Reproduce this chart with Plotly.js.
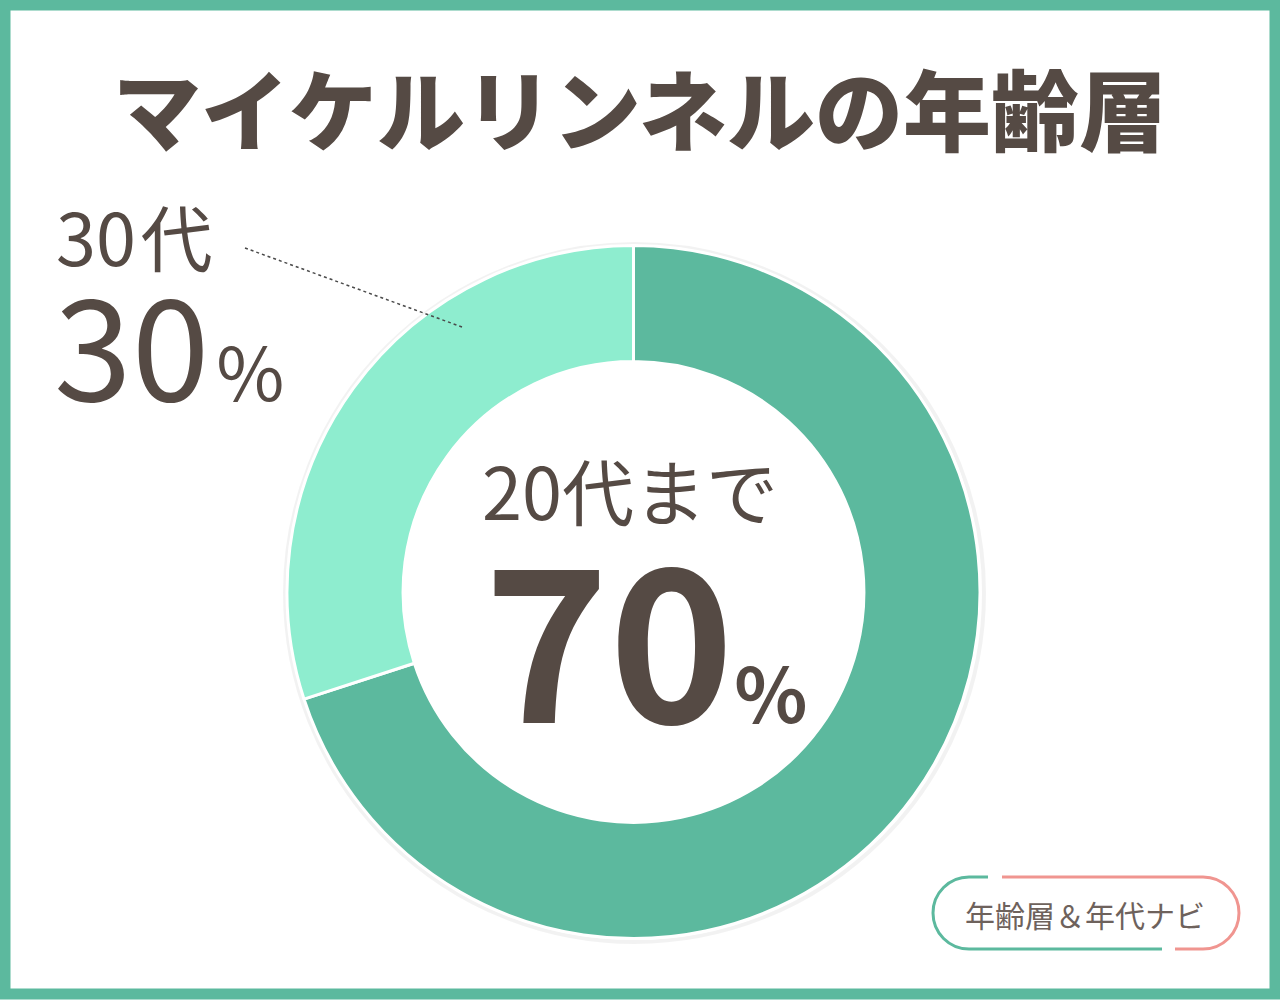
<!DOCTYPE html>
<html>
<head>
<meta charset="utf-8">
<script src="https://cdn.plot.ly/plotly-3.0.1.min.js"></script>
<style>
  html, body { margin: 0; padding: 0; background: #ffffff; }
  #chart { width: 1280px; height: 1000px; }
</style>
</head>
<body>
<div id="chart"></div>
<script>
// ---- data ----
const chartTitle = 'マイケルリンネルの年齢層';
const labels = ['20代まで', '30代'];
const values = [70, 30];
const colors = ['#5cb99e', '#8eedcf'];
const brandText = '年齢層＆年代ナビ';

// ---- helpers (pixel -> paper) ----
const W = 1280, H = 1000;
const px = x => x / W;
const py = y => 1 - y / H;

const textColor = '#554a44';
const fam = '"Noto Sans CJK JP", "Noto Sans", sans-serif';

function pillPath(cx, cy, r, side) {
  const k = 0.5523 * r;
  if (side === 'left') {
    return `C${px(cx - k)},${py(cy - r)} ${px(cx - r)},${py(cy - k)} ${px(cx - r)},${py(cy)} ` +
           `C${px(cx - r)},${py(cy + k)} ${px(cx - k)},${py(cy + r)} ${px(cx)},${py(cy + r)}`;
  } else {
    return `C${px(cx + k)},${py(cy - r)} ${px(cx + r)},${py(cy - k)} ${px(cx + r)},${py(cy)} ` +
           `C${px(cx + r)},${py(cy + k)} ${px(cx + k)},${py(cy + r)} ${px(cx)},${py(cy + r)}`;
  }
}

const pcy = 913, pr = 36, lcx = 969, rcx = 1203;
const greenPath = `M${px(988)},${py(pcy - pr)} L${px(lcx)},${py(pcy - pr)} ` + pillPath(lcx, pcy, pr, 'left') +
                  ` L${px(1162)},${py(pcy + pr)}`;
const pinkPath = `M${px(1002)},${py(pcy - pr)} L${px(rcx)},${py(pcy - pr)} ` + pillPath(rcx, pcy, pr, 'right') +
                 ` L${px(1175)},${py(pcy + pr)}`;

const trace = {
  type: 'pie',
  labels: labels,
  values: values,
  sort: false,
  direction: 'clockwise',
  rotation: 0,
  hole: 0.665,
  marker: { colors: colors, line: { color: '#ffffff', width: 3 } },
  textinfo: 'none',
  hoverinfo: 'none',
  showlegend: false,
  domain: { x: [px(287), px(980)], y: [py(939), py(245)] }
};

const layout = {
  width: W, height: H,
  margin: { l: 0, r: 0, t: 0, b: 0 },
  paper_bgcolor: '#ffffff',
  plot_bgcolor: '#ffffff',
  showlegend: false,
  title: {
    text: chartTitle,
    x: 0.5, xanchor: 'center',
    y: py(113), yanchor: 'middle', yref: 'paper',
    font: { family: fam, size: 88, color: textColor, weight: 900 }
  },
  shapes: [
    // frame
    { type: 'rect', xref: 'paper', yref: 'paper', x0: px(5), x1: px(1275), y0: py(5), y1: py(994),
      line: { color: '#5cb99e', width: 11 }, fillcolor: 'rgba(0,0,0,0)', layer: 'above' },
    // soft shadow ring behind donut
    { type: 'circle', xref: 'paper', yref: 'paper', x0: px(285), x1: px(984), y0: py(942), y1: py(244),
      line: { width: 4, color: 'rgba(0,0,0,0.05)' }, fillcolor: 'rgba(0,0,0,0)', layer: 'below' },
    // leader line
    { type: 'line', xref: 'paper', yref: 'paper', x0: px(245), y0: py(248), x1: px(462), y1: py(327),
      line: { color: '#4a4a4a', width: 1.5, dash: 'dot' }, layer: 'above' },
    // brand pill
    { type: 'path', xref: 'paper', yref: 'paper', path: greenPath, line: { color: '#5cb99e', width: 3 } },
    { type: 'path', xref: 'paper', yref: 'paper', path: pinkPath, line: { color: '#f09590', width: 3 } }
  ],
  annotations: [
    // 30代 label
    { xref: 'paper', yref: 'paper', x: px(54), y: py(234), xanchor: 'left', yanchor: 'middle',
      text: labels[1].slice(0, 2) + '<span style="font-size:20px"> </span>' + labels[1].slice(2), showarrow: false,
      font: { family: fam, size: 72, color: textColor } },
    { xref: 'paper', yref: 'paper', x: px(52), y: py(340), xanchor: 'left', yanchor: 'middle',
      text: values[1] + '<span style="font-size:30px"> </span><span style="font-size:74px">%</span>', showarrow: false,
      font: { family: fam, size: 140, color: textColor } },
    // centre label
    { xref: 'paper', yref: 'paper', x: px(630), y: py(488), xanchor: 'center', yanchor: 'middle',
      text: labels[0], showarrow: false,
      font: { family: fam, size: 72, color: textColor } },
    { xref: 'paper', yref: 'paper', x: px(645), y: py(630), xanchor: 'center', yanchor: 'middle',
      text: values[0] + '<span style="font-size:76px">%</span>', showarrow: false,
      font: { family: fam, size: 212, color: textColor, weight: 700 } },
    // brand text
    { xref: 'paper', yref: 'paper', x: px(1085), y: py(914), xanchor: 'center', yanchor: 'middle',
      text: brandText, showarrow: false,
      font: { family: fam, size: 30, color: '#6e625c' } }
  ]
};

Plotly.newPlot('chart', [trace], layout, { staticPlot: true, displayModeBar: false });
</script>
</body>
</html>
